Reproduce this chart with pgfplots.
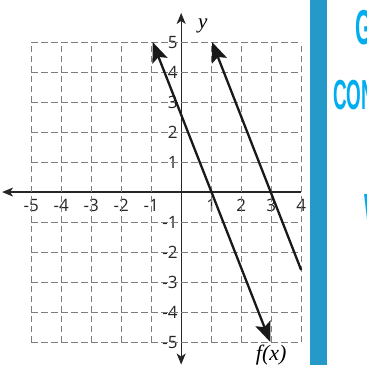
\documentclass[border=0pt]{standalone}
\usepackage{fontspec}
\setmainfont{Open Sans}
\newfontfamily\serifit{Liberation Serif}
\newfontfamily\headf{Liberation Sans}
\usepackage{graphicx}
\usepackage{pgfplots}
\pgfplotsset{compat=1.18}
\usetikzlibrary{arrows.meta}
\definecolor{barblue}{RGB}{37,153,199}
\definecolor{headcyan}{RGB}{0,174,239}
\definecolor{gridgray}{RGB}{125,125,125}
\begin{document}
\begin{tikzpicture}[x=1pt,y=1pt]
\useasboundingbox (0,0) rectangle (367,365);
\clip (0,0) rectangle (367,365);
\begin{axis}[
  at={(6.9,1.5)}, anchor=south west,
  x=30pt, y=30pt,
  xmin=-5.97, xmax=4, ymin=-5.75, ymax=5.97,
  axis lines=middle,
  clip=false,
  axis line style={line width=1.3pt, color=black!85},
  x axis line style={{Stealth[length=11pt,width=9pt,inset=3pt]}-},
  y axis line style={{Stealth[length=11pt,width=9pt,inset=3pt]}-{Stealth[length=11pt,width=9pt,inset=3pt]}},
  xtick={-5,-4,-3,-2,-1,1,2,3,4},
  xticklabels={-5,-4,-3,-2,-1,1,2,3,4},
  ytick={-5,-4,-3,-2,-1,1,2,3,4,5},
  yticklabels={-5,-4,-3,-2,-1,1,2,3,4,5},
  major tick length=0pt,
  tick label style={font=\fontsize{17}{17}\selectfont, text=black!85},
  xticklabel style={anchor=north, yshift=-4pt},
  yticklabel style={anchor=east},
]
\pgfplotsinvokeforeach{-5,-4,-3,-2,-1,1,2,3,4}{
  \draw[gridgray, line width=1pt, dash pattern=on 6.5pt off 3.5pt] (axis cs:#1,-5) -- (axis cs:#1,5);
}
\pgfplotsinvokeforeach{-5,-4,-3,-2,-1,1,2,3,4,5}{
  \draw[gridgray, line width=1pt, dash pattern=on 6.5pt off 3.5pt] (axis cs:-5,#1) -- (axis cs:4,#1);
}
\addplot[black!90, line width=2.3pt, {Stealth[length=20pt,width=16pt,inset=4pt]}-{Stealth[length=20pt,width=16pt,inset=4pt]}] coordinates {(-0.95,5) (2.97,-5)};
\addplot[black!90, line width=2.3pt, {Stealth[length=20pt,width=16pt,inset=4pt]}-] coordinates {(1.03,5) (4,-2.6)};
\node[font=\serifit\itshape\fontsize{21}{21}\selectfont] at (axis cs:0.72,5.55) {y};
\node[font=\serifit\itshape\fontsize{22}{22}\selectfont] at (axis cs:3.0,-5.42) {f(x)};
\end{axis}
\fill[white] (307.5,0) rectangle (310,365);
\fill[barblue] (310,0) rectangle (327,365);
\node[anchor=base west, inner sep=0pt, text=headcyan] at (355,320) {\scalebox{0.45}[1]{\headf\bfseries\fontsize{49}{49}\selectfont GO}};
\node[anchor=base west, inner sep=0pt, text=headcyan] at (333,255) {\scalebox{0.45}[1]{\headf\bfseries\fontsize{42}{42}\selectfont CON}};
\node[anchor=base west, inner sep=0pt, text=headcyan] at (364,138) {\scalebox{0.45}[1]{\headf\bfseries\fontsize{48}{48}\selectfont W}};
\end{tikzpicture}
\end{document}
